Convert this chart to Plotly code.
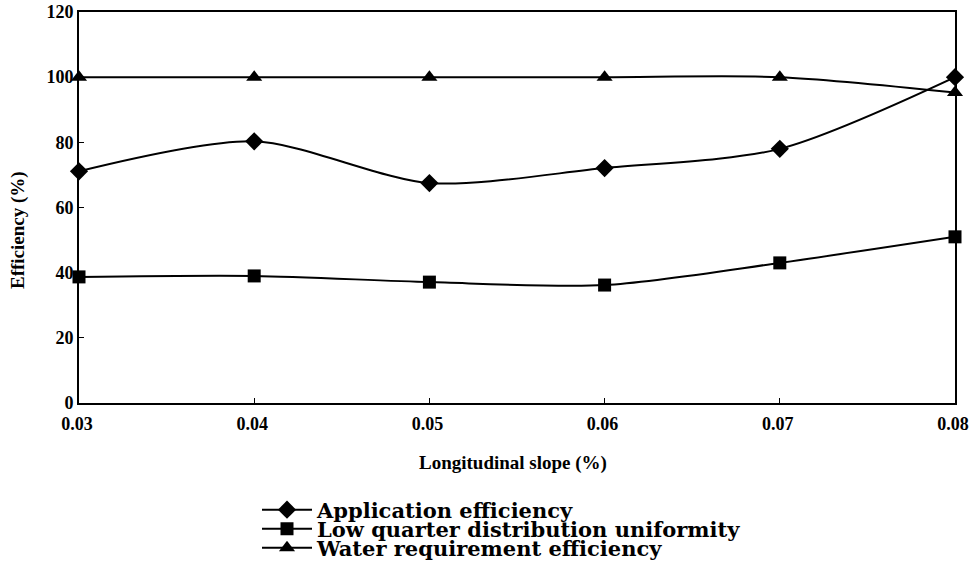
import plotly.graph_objects as go

slope = [0.03, 0.04, 0.05, 0.06, 0.07, 0.08]
application_eff = [71.1, 80.3, 67.5, 72.1, 78.0, 100.0]
low_quarter_du = [38.7, 39.0, 37.1, 36.2, 43.0, 51.0]
water_req_eff = [100.0, 100.0, 100.0, 100.0, 100.0, 95.3]

x_ticks = [0.03, 0.04, 0.05, 0.06, 0.07, 0.08]
x_tick_labels = ["0.03", "0.04", "0.05", "0.06", "0.07", "0.08"]
y_ticks = [0, 20, 40, 60, 80, 100, 120]
x_title = "Longitudinal slope (%)"
y_title = "Efficiency (%)"

FONT = "Liberation Serif, Times New Roman, serif"
LEG_FONT = "DejaVu Serif, serif"
W, H = 969, 566
L, R, T, B = 79, 14, 12, 163
PW, PH = W - L - R, H - T - B

fig = go.Figure()
series = [
    ("Application efficiency", application_eff, "diamond", 14, "legend"),
    ("Low quarter distribution uniformity", low_quarter_du, "square", 13, "legend2"),
    ("Water requirement efficiency", water_req_eff, "triangle-up", 14, "legend3"),
]
for name, vals, sym, sz, leg in series:
    fig.add_trace(go.Scatter(
        x=slope, y=vals, name=name, mode="lines+markers",
        line=dict(color="black", width=2, shape="spline", smoothing=0.8),
        marker=dict(symbol=sym, size=sz, color="black"),
        cliponaxis=False, legend=leg,
    ))

def leg_cfg(ypx):
    return dict(
        x=257 / W, y=1 - ypx / H, xref="container", yref="container",
        xanchor="left", yanchor="middle",
        font=dict(family=LEG_FONT, size=21, color="black", weight="bold"),
        itemwidth=50, bgcolor="rgba(0,0,0,0)", borderwidth=0,
    )

fig.update_layout(
    width=W, height=H,
    margin=dict(l=L, r=R, t=T, b=B, autoexpand=False),
    paper_bgcolor="white", plot_bgcolor="white",
    font=dict(family=FONT, color="black", size=18, weight="bold"),
    showlegend=True,
    legend=leg_cfg(510),
    legend2=leg_cfg(529),
    legend3=leg_cfg(548),
    annotations=[
        dict(text=x_title, xref="paper", yref="paper", x=(513 - L) / PW, y=(H - B - 463) / PH,
             xanchor="center", yanchor="middle", showarrow=False,
             font=dict(size=19, family=FONT, weight="bold", color="black")),
        dict(text=y_title, xref="paper", yref="paper", x=(18 - L) / PW, y=(H - B - 230) / PH,
             xanchor="center", yanchor="middle", showarrow=False, textangle=-90,
             font=dict(size=19, family=FONT, weight="bold", color="black")),
    ],
)
fig.update_xaxes(
    range=[0.03, 0.08], tickvals=x_ticks, ticktext=x_tick_labels,
    showgrid=False, zeroline=False, showline=True, linecolor="black", linewidth=2,
    mirror=True, ticks="inside", ticklen=5, tickwidth=1, tickcolor="black",
    tickfont=dict(size=18, family=FONT, weight="bold"), ticklabeloverflow="allow",
    ticklabelshift=-2, ticklabelstandoff=3,
)
fig.update_yaxes(
    range=[0, 120], tickvals=y_ticks,
    showgrid=False, zeroline=False, showline=True, linecolor="black", linewidth=2,
    mirror=True, ticks="inside", ticklen=5, tickwidth=1, tickcolor="black",
    tickfont=dict(size=18, family=FONT, weight="bold"), ticklabeloverflow="allow",
)

fig.write_html("out.html", config={"displayModeBar": False},
               post_script="document.body.style.margin='0';")
